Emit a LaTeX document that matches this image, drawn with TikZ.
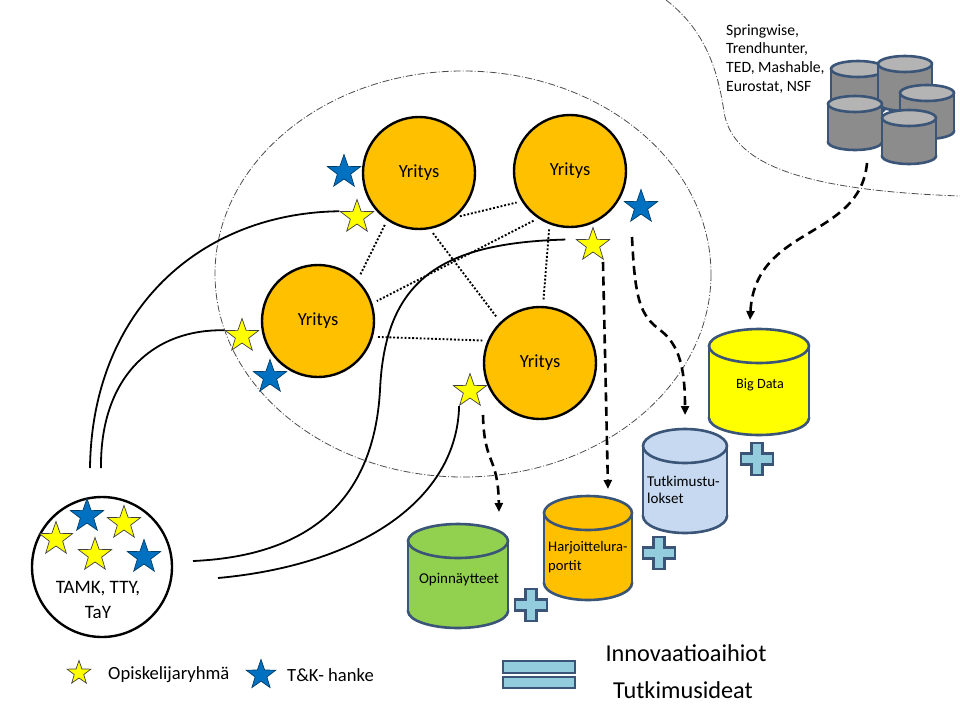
\documentclass[tikz,border=0pt]{standalone}
\usepackage{fontspec}
\setmainfont{Carlito}
\usetikzlibrary{shapes.geometric,arrows.meta}
\definecolor{oranssi}{HTML}{FFC000}
\definecolor{keltainen}{HTML}{FFFF00}
\definecolor{sininen}{HTML}{0070C0}
\definecolor{reuna}{HTML}{3A5577}
\definecolor{vihrea}{HTML}{92D050}
\definecolor{vaaleansin}{HTML}{C6D9F1}
\definecolor{turkoosi}{HTML}{93CDDD}
\definecolor{harmaa}{HTML}{8C8C8C}
\definecolor{harmaakansi}{HTML}{B4B4B4}
\tikzset{
  yritys/.style={circle,draw=black,line width=2.4pt,fill=oranssi,minimum size=112pt,inner sep=0pt,font=\fontsize{18.5}{20}\selectfont},
  tahti/.style={star,star points=5,star point ratio=2.5,inner sep=0pt,minimum size=35pt,line width=0.7pt},
  ktahti/.style={tahti,fill=keltainen,draw=black!75},
  stahti/.style={tahti,fill=sininen,draw=sininen!55!black},
  yhteys/.style={line width=1.8pt},
  pisteet/.style={line width=1.9pt,dash pattern=on 1.9pt off 1.9pt,shorten <=5pt,shorten >=5pt},
  nuoli/.style={line width=2.6pt,dash pattern=on 9pt off 5.5pt,-{Triangle[width=8pt,length=9pt]}},
  raja/.style={line width=0.8pt,black!70,dash pattern=on 7pt off 2pt on 1pt off 2pt},
  kanta/.style={draw=reuna,line width=2.6pt},
  merkki/.style={draw=reuna,line width=2.2pt,fill=turkoosi}
}
% x, ylareuna, rx, ry, korkeus, runko, kansi
\newcommand{\sylinteri}[7]{%
  \draw[kanta,fill=#6] (#1,#2+#5) ellipse [x radius=#3,y radius=#4];
  \fill[#6] (#1-#3,#2) rectangle (#1+#3,#2+#5);
  \draw[kanta] (#1-#3,#2) -- (#1-#3,#2+#5) (#1+#3,#2) -- (#1+#3,#2+#5);
  \draw[kanta,fill=#7] (#1,#2) ellipse [x radius=#3,y radius=#4];}
\begin{document}
\begin{tikzpicture}[x=1pt,y=-1pt]
\useasboundingbox (0,0) rectangle (960,720);
\draw[raja] (463,274) ellipse [x radius=248,y radius=203];
\draw[raja] (666,0) .. controls (705,30) and (718,70) .. (724,112) .. controls (732,160) and (790,190) .. (960,196);

\node[yritys] (A) at (419,173) {Yritys};
\node[yritys] (B) at (570,171) {Yritys};
\node[yritys] (C) at (318,321) {Yritys};
\node[yritys] (D) at (540,363) {Yritys};
\draw[pisteet] (A.-51) -- (B.-148);
\draw[pisteet] (A.-124) -- (C.46);
\draw[pisteet] (A.-79) -- (D.134);
\draw[pisteet] (B.-124) -- (C.18);
\draw[pisteet] (B.-111) -- (D.87);
\draw[pisteet] (C.-16) -- (D.157);

% korkeakoulut
\node[circle,draw=black,line width=2.4pt,fill=white,minimum size=140pt] (U) at (102,567) {};
\node[font=\fontsize{19}{25}\selectfont,align=center] (Unimi) at (98,600) {TAMK, TTY,\\TaY};
\node[stahti] (u5) at (87,516) {};
\node[ktahti] (u6) at (124,523) {};
\node[ktahti] (u7) at (56,539) {};
\node[ktahti] (u8) at (95,555) {};
\node[stahti] (u9) at (144,557) {};

\node[stahti] (s1) at (344,172) {};
\node[ktahti] (y1) at (357,217) {};
\node[stahti] (s2) at (641,207) {};
\node[ktahti] (y2) at (593,245) {};
\node[ktahti] (y3) at (242,336) {};
\node[stahti] (s3) at (270,377) {};
\node[ktahti] (y4) at (470,391) {};

\coordinate (u1) at (90,468);
\coordinate (u2) at (101,468);
\coordinate (u3) at (193,561);
\coordinate (u4) at (218,578);
\draw[yhteys] (u1) .. controls (92,310) and (200,213) .. (y1.162);
\draw[yhteys] (u2) .. controls (100,380) and (150,329) .. (y3.162);
\draw[yhteys,shorten >=10pt] (u3) .. controls (330,555) and (375,480) .. (380,390) .. controls (385,280) and (440,243) .. (y2.162);
\draw[yhteys] (u4) .. controls (360,565) and (457,500) .. (y4.234);

% tietokannat
\sylinteri{858}{69}{27}{8}{39}{harmaa}{harmaakansi}
\sylinteri{905}{64}{27}{8}{39}{harmaa}{harmaakansi}
\sylinteri{927}{93}{27}{8}{38}{harmaa}{harmaakansi}
\sylinteri{855}{104}{27}{8}{38}{harmaa}{harmaakansi}
\sylinteri{909}{118}{27}{8}{38}{harmaa}{harmaakansi}
\node[anchor=north west,align=left,inner sep=0pt,font=\fontsize{15.7}{18.7}\selectfont] (lahteet) at (726,24) {Springwise,\\Trendhunter,\\TED, Mashable,\\Eurostat, NSF};

\sylinteri{759}{346}{50}{17}{72}{keltainen}{keltainen}
\sylinteri{685}{446}{42}{17}{70}{vaaleansin}{vaaleansin}
\sylinteri{588}{513}{44}{17}{70}{oranssi}{oranssi}
\sylinteri{458}{541}{50}{17}{70}{vihrea}{vihrea}
\node[font=\fontsize{14.2}{16}\selectfont] (bigdata) at (760,385) {Big Data};
\node[anchor=west,align=left,inner sep=0pt,font=\fontsize{15}{17}\selectfont] (tulokset) at (647,490) {Tutkimustu-\\lokset};
\node[anchor=west,align=left,inner sep=0pt,font=\fontsize{14.6}{19}\selectfont] (raportit) at (548,557) {Harjoittelura-\\portit};
\node[font=\fontsize{15}{17}\selectfont] (opinnaytteet) at (459,580) {Opinnäytteet};

\coordinate (k1) at (867,163);
\coordinate (k2) at (750,320);
\coordinate (t1) at (632,237);
\coordinate (t2) at (685,415);
\coordinate (r1) at (603,262);
\coordinate (r2) at (608,489);
\coordinate (o1) at (483,415);
\coordinate (o2) at (499,512);
\draw[nuoli] (k1) .. controls (860,240) and (755,225) .. (k2);
\draw[nuoli] (t1) .. controls (635,300) and (640,315) .. (660,330) .. controls (680,345) and (685,370) .. (t2);
\draw[nuoli] (r1) -- (r2);
\draw[nuoli] (o1) .. controls (484,465) and (498,455) .. (o2);

% plus ja yhtasuuri
\foreach \px/\py in {531/605,659/553,757/459}
  \draw[merkki,shift={(\px,\py)}] (-5.5,-16) -- (5.5,-16) -- (5.5,-5.5) -- (16,-5.5) -- (16,5.5) -- (5.5,5.5) -- (5.5,16) -- (-5.5,16) -- (-5.5,5.5) -- (-16,5.5) -- (-16,-5.5) -- (-5.5,-5.5) -- cycle;
\draw[merkki] (503,661) rectangle (575,673);
\draw[merkki] (503,677) rectangle (575,688);
\node[font=\fontsize{24.3}{26}\selectfont] (aihiot) at (686,653) {Innovaatioaihiot};
\node[font=\fontsize{24.3}{26}\selectfont] (ideat) at (683,690) {Tutkimusideat};

% selite
\node[ktahti,minimum size=25pt] (sy) at (79,673) {};
\node[anchor=west,inner sep=0pt,font=\fontsize{18.6}{20}\selectfont] (sytxt) at (108,675) {Opiskelijaryhmä};
\node[stahti,minimum size=31pt] (ss) at (261,675) {};
\node[anchor=west,inner sep=0pt,font=\fontsize{18.6}{20}\selectfont] (sstxt) at (287,675) {T\&K- hanke};
\end{tikzpicture}
\end{document}
